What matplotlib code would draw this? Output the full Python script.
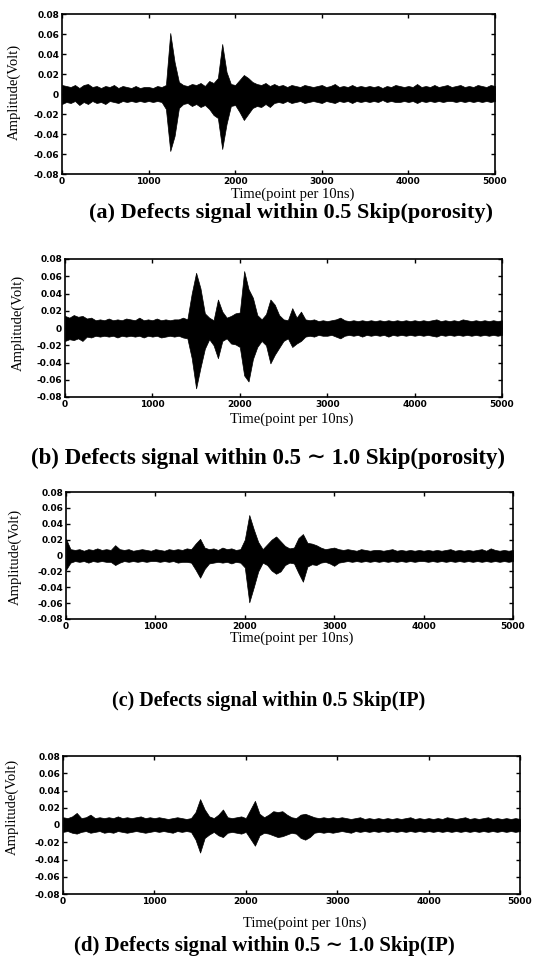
import numpy as np
import matplotlib
matplotlib.use("Agg")
import matplotlib.pyplot as plt

# envelope of each trace, in mV, one value every 50 points
time = np.arange(0, 5001, 50)

up_a = [9, 8, 7, 9, 6, 9, 10, 7, 8, 6,
        8, 7, 9, 6, 8, 7, 6, 8, 6, 7,
        7, 6, 8, 7, 9, 61, 32, 12, 9, 8,
        10, 9, 11, 8, 13, 11, 16, 50, 22, 10,
        9, 14, 19, 16, 12, 10, 9, 11, 8, 10,
        8, 9, 7, 9, 8, 7, 9, 8, 7, 8,
        9, 7, 8, 10, 7, 8, 7, 9, 7, 8,
        7, 8, 7, 8, 6, 8, 7, 9, 8, 7,
        8, 7, 10, 7, 8, 7, 9, 7, 8, 9,
        7, 8, 9, 7, 8, 7, 9, 8, 7, 9,
        8]
lo_a = [-10, -8, -9, -7, -11, -8, -10, -7, -9, -8,
        -10, -7, -8, -9, -7, -8, -7, -8, -7, -8,
        -7, -8, -7, -8, -15, -57, -42, -14, -10, -9,
        -12, -10, -13, -11, -15, -21, -24, -55, -30, -12,
        -11, -18, -26, -20, -14, -12, -13, -10, -13, -9,
        -8, -9, -7, -9, -8, -7, -9, -8, -7, -8,
        -9, -7, -8, -9, -7, -8, -7, -9, -7, -8,
        -7, -8, -7, -8, -6, -8, -7, -8, -8, -7,
        -8, -7, -9, -7, -8, -7, -8, -7, -8, -7,
        -7, -8, -7, -8, -7, -8, -7, -8, -7, -8,
        -7]

up_b = [14, 12, 15, 13, 14, 11, 12, 9, 10, 9,
        11, 9, 10, 9, 11, 10, 9, 12, 9, 10,
        9, 11, 9, 10, 9, 10, 10, 12, 10, 40,
        64, 46, 17, 12, 9, 33, 19, 12, 14, 17,
        18, 66, 45, 35, 15, 10, 16, 33, 27, 15,
        10, 9, 23, 12, 19, 10, 9, 10, 8, 9,
        8, 9, 10, 12, 9, 8, 9, 8, 9, 8,
        9, 8, 9, 8, 9, 8, 9, 8, 9, 8,
        9, 8, 9, 8, 9, 10, 8, 9, 8, 9,
        8, 10, 9, 8, 9, 8, 9, 8, 9, 8,
        9]
lo_b = [-15, -13, -14, -12, -15, -10, -11, -9, -10, -9,
        -10, -9, -11, -9, -10, -9, -10, -9, -11, -9,
        -10, -9, -11, -10, -9, -10, -9, -11, -12, -35,
        -70, -46, -24, -13, -20, -35, -15, -12, -18, -19,
        -22, -55, -62, -36, -22, -15, -20, -41, -31, -23,
        -15, -12, -22, -18, -15, -10, -9, -10, -8, -9,
        -9, -8, -10, -12, -9, -8, -9, -8, -10, -8,
        -9, -8, -9, -8, -10, -8, -9, -8, -9, -8,
        -9, -8, -9, -8, -9, -10, -8, -9, -8, -9,
        -8, -9, -8, -9, -8, -9, -8, -9, -8, -9,
        -8]

up_c = [21, 8, 7, 8, 6, 8, 7, 9, 7, 8,
        7, 13, 8, 7, 8, 6, 7, 8, 7, 6,
        8, 7, 6, 8, 7, 8, 7, 9, 8, 15,
        21, 10, 8, 9, 7, 10, 8, 9, 7, 8,
        20, 51, 33, 17, 8, 14, 20, 24, 18, 12,
        9, 10, 22, 27, 16, 15, 13, 10, 8, 9,
        10, 8, 7, 8, 7, 6, 8, 7, 6, 7,
        7, 6, 7, 8, 6, 7, 6, 7, 6, 7,
        6, 7, 6, 7, 6, 7, 8, 6, 7, 6,
        7, 6, 7, 8, 6, 9, 7, 6, 7, 6,
        7]
lo_c = [-18, -9, -7, -8, -7, -9, -7, -8, -7, -8,
        -8, -12, -9, -7, -8, -7, -8, -7, -8, -7,
        -7, -8, -7, -8, -7, -9, -8, -8, -9, -18,
        -28, -17, -10, -9, -8, -9, -8, -10, -8, -9,
        -15, -59, -40, -20, -9, -12, -19, -23, -20, -12,
        -9, -10, -22, -33, -14, -11, -12, -9, -8, -10,
        -13, -9, -8, -7, -8, -7, -8, -7, -8, -7,
        -8, -7, -8, -7, -8, -7, -8, -7, -8, -7,
        -7, -8, -7, -8, -7, -8, -7, -8, -7, -8,
        -7, -8, -7, -8, -7, -8, -7, -8, -7, -8,
        -7]

up_d = [9, 8, 10, 14, 8, 9, 12, 8, 9, 8,
        9, 8, 10, 8, 9, 8, 9, 10, 8, 9,
        8, 9, 8, 7, 8, 9, 8, 7, 8, 15,
        30, 18, 10, 8, 12, 18, 9, 8, 9, 10,
        8, 18, 28, 13, 9, 12, 16, 15, 16, 12,
        9, 8, 12, 13, 11, 9, 8, 9, 8, 9,
        8, 9, 8, 7, 8, 9, 7, 8, 7, 8,
        7, 8, 7, 8, 7, 8, 9, 7, 8, 7,
        8, 7, 8, 7, 9, 8, 7, 8, 9, 7,
        8, 7, 8, 9, 7, 8, 7, 8, 7, 8,
        7]
lo_d = [-8, -7, -9, -10, -8, -7, -9, -8, -7, -9,
        -8, -9, -7, -8, -9, -8, -7, -8, -9, -8,
        -7, -8, -7, -8, -9, -7, -8, -7, -8, -17,
        -32, -15, -11, -8, -12, -14, -9, -8, -9, -10,
        -8, -16, -24, -12, -9, -10, -12, -14, -13, -11,
        -9, -10, -15, -17, -14, -9, -8, -9, -8, -9,
        -8, -7, -8, -9, -7, -8, -7, -8, -7, -8,
        -7, -8, -7, -8, -7, -8, -7, -8, -7, -8,
        -7, -8, -7, -8, -7, -8, -7, -8, -7, -8,
        -7, -8, -7, -8, -7, -8, -7, -8, -7, -8,
        -7]

captions = ["(a) Defects signal within 0.5 Skip(porosity)",
            "(b) Defects signal within 0.5 \u223c 1.0 Skip(porosity)",
            "(c) Defects signal within 0.5 Skip(IP)",
            "(d) Defects signal within 0.5 \u223c 1.0 Skip(IP)"]
yticks = [-0.08, -0.06, -0.04, -0.02, 0, 0.02, 0.04, 0.06, 0.08]
ytick_labels = ["-0.08", "-0.06", "-0.04", "-0.02", "0", "0.02", "0.04", "0.06", "0.08"]
xticks = [0, 1000, 2000, 3000, 4000, 5000]

W, H = 535, 958

# pixel boxes of each panel: left, right, top, bottom
boxes = [(62, 495, 14, 174), (65, 502, 259, 397), (66, 513, 492, 619), (63, 520, 756, 894)]
xlabel_pos = [(293, 194), (292, 419), (292, 638), (305, 923)]
ylabel_pos = [(14, 92), (18, 323), (15, 557), (12, 807)]
caption_pos = [(291, 213), (268, 458), (269, 701), (264, 946)]
caption_size = [16, 16.5, 14.5, 15]

fig = plt.figure(figsize=(W / 100, H / 100), dpi=100)

def fx(px):
    return px / W

def fy(py):
    return 1 - py / H

traces = [(up_a, lo_a), (up_b, lo_b), (up_c, lo_c), (up_d, lo_d)]
for i, (up, lo) in enumerate(traces):
    l, r, t, b = boxes[i]
    ax = fig.add_axes([fx(l), fy(b), (r - l) / W, (b - t) / H])
    ax.fill_between(time, np.array(lo) / 1000, np.array(up) / 1000,
                    color="black", lw=0.5, edgecolor="black")
    ax.set_xlim(0, 5000)
    ax.set_ylim(-0.08, 0.08)
    ax.set_yticks(yticks)
    ax.set_yticklabels(ytick_labels)
    ax.set_xticks(xticks)
    ax.tick_params(direction="in", length=3, width=1, top=True, right=True,
                   labelsize=6.5, pad=2)
    for lab in ax.get_xticklabels() + ax.get_yticklabels():
        lab.set_fontweight("bold")
    for s in ax.spines.values():
        s.set_linewidth(1.2)

    fig.text(fx(xlabel_pos[i][0]), fy(xlabel_pos[i][1]), "Time(point per 10ns)",
             family="Liberation Serif", fontsize=10.5, ha="center", va="center")
    fig.text(fx(ylabel_pos[i][0]), fy(ylabel_pos[i][1]), "Amplitude(Volt)",
             family="Liberation Serif", fontsize=10.5, rotation=90,
             ha="center", va="center")
    fig.text(fx(caption_pos[i][0]), fy(caption_pos[i][1]), captions[i],
             family=["Liberation Serif", "DejaVu Serif"], fontsize=caption_size[i],
             fontweight="bold", ha="center", va="center")

fig.savefig("out.png", dpi=100)
